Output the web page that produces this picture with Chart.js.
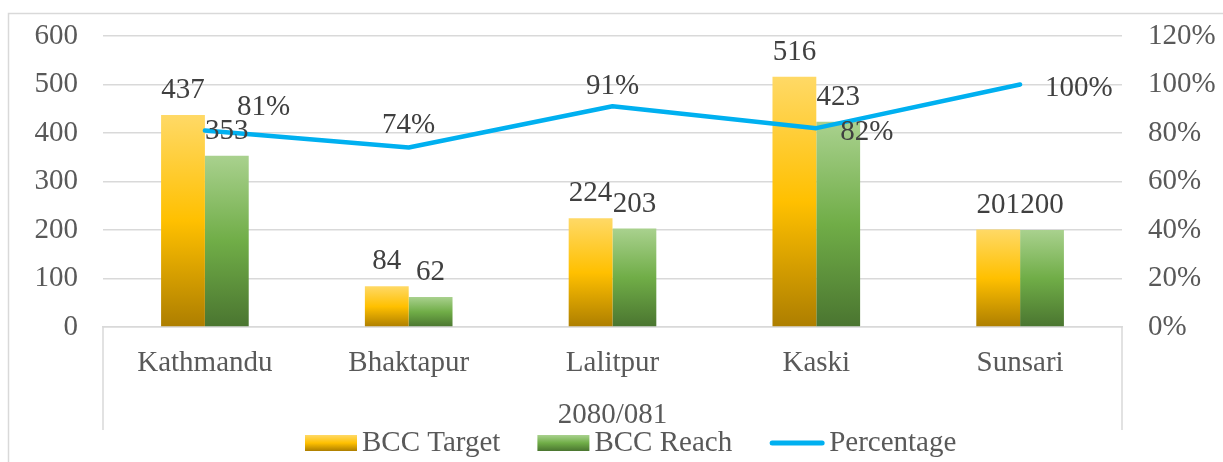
<!DOCTYPE html>
<html>
<head>
<meta charset="utf-8">
<script src="https://cdn.jsdelivr.net/npm/chart.js@4"></script>
<style>
  html, body { margin: 0; padding: 0; background: #fff; }
  #wrap { width: 1223px; height: 462px; position: relative; }
</style>
</head>
<body>
<div id="wrap"><canvas id="chart" width="1223" height="462"></canvas></div>
<script>
// ── DATOS ──
const distritos   = ['Kathmandu', 'Bhaktapur', 'Lalitpur', 'Kaski', 'Sunsari'];
const bccTarget   = [437, 84, 224, 516, 201];
const bccReach    = [353, 62, 203, 423, 200];
const porcentaje  = [81, 74, 91, 82, 100];
const tituloEjeX  = '2080/081';

const FUENTE = '"Liberation Serif", "Times New Roman", serif';
const TAM = 29;
const GRIS_EJE = '#595959';
const GRIS_ETQ = '#404040';
const GRIS_LINEA = '#d9d9d9';

const stopsAmarillo = ['#FFD966', '#FFC000', '#AD7E00'];
const stopsVerde    = ['#A9D18E', '#70AD47', '#4A7530'];

Chart.defaults.font.family = FUENTE;

// degradado vertical por barra (claro arriba, oscuro abajo)
function degradado(stops) {
  return ctx => {
    const chart = ctx.chart;
    const y = chart.scales && chart.scales.y;
    if (!y || ctx.type !== 'data') return stops[1];
    const top  = y.getPixelForValue(ctx.raw);
    const base = y.getPixelForValue(0);
    if (!isFinite(top) || !isFinite(base) || base - top < 1) return stops[1];
    const g = chart.ctx.createLinearGradient(0, top, 0, base);
    g.addColorStop(0, stops[0]);
    g.addColorStop(0.5, stops[1]);
    g.addColorStop(1, stops[2]);
    return g;
  };
}

// posiciones de las etiquetas de la línea (como en el original)
const offsetsLinea = [
  { dx: 32, dy: -16, align: 'left' },
  { dx: 0,  dy: -15, align: 'center' },
  { dx: 0,  dy: -12, align: 'center' },
  { dx: 24, dy: 12,  align: 'left' },
  { dx: 25, dy: 11,  align: 'left' },
];

// anchura fija de los ejes verticales, sin relleno extra arriba/abajo
function fijarAncho(w) {
  return s => {
    s.width = w;
    s.paddingTop = 0;
    s.paddingBottom = 0;
  };
}

const pluginExtras = {
  id: 'extras',
  afterDatasetsDraw(chart) {
    const c = chart.ctx;
    c.save();
    c.font = TAM + 'px ' + FUENTE;
    c.fillStyle = GRIS_ETQ;
    c.textBaseline = 'alphabetic';
    // etiquetas de barras
    [0, 1].forEach(di => {
      const meta = chart.getDatasetMeta(di);
      meta.data.forEach((bar, i) => {
        c.textAlign = 'center';
        c.fillText(String(chart.data.datasets[di].data[i]), bar.x, bar.y - 17);
      });
    });
    // etiquetas de la línea
    const metaL = chart.getDatasetMeta(2);
    metaL.data.forEach((pt, i) => {
      const o = offsetsLinea[i];
      c.textAlign = o.align;
      c.fillText(porcentaje[i] + '%', pt.x + o.dx, pt.y + o.dy);
    });
    c.restore();
  },
  afterDraw(chart) {
    const c = chart.ctx;
    const { left, right, bottom } = chart.chartArea;
    c.save();
    // marco exterior
    c.strokeStyle = GRIS_LINEA;
    c.lineWidth = 1.5;
    c.beginPath();
    c.moveTo(8.5, 462); c.lineTo(8.5, 13.5); c.lineTo(1223, 13.5);
    c.stroke();
    // separadores del eje de categorías
    c.beginPath();
    c.moveTo(left, bottom); c.lineTo(left, 430);
    c.moveTo(right, bottom); c.lineTo(right, 430);
    c.stroke();
    // título del eje X
    c.font = TAM + 'px ' + FUENTE;
    c.fillStyle = GRIS_EJE;
    c.textAlign = 'center';
    c.textBaseline = 'alphabetic';
    c.fillText(tituloEjeX, (left + right) / 2, 423);
    // leyenda
    const items = [
      { txt: 'BCC Target', tipo: 'caja', stops: stopsAmarillo },
      { txt: 'BCC Reach',  tipo: 'caja', stops: stopsVerde },
      { txt: 'Percentage', tipo: 'linea' },
    ];
    let x = 305;
    const yTop = 435, yBot = 451, base = 451;
    c.textAlign = 'left';
    items.forEach(it => {
      if (it.tipo === 'caja') {
        const g = c.createLinearGradient(0, yTop, 0, yBot);
        g.addColorStop(0, it.stops[0]);
        g.addColorStop(0.5, it.stops[1]);
        g.addColorStop(1, it.stops[2]);
        c.fillStyle = g;
        c.fillRect(x, yTop, 52, yBot - yTop);
        x += 57;
      } else {
        c.strokeStyle = '#00B0F0';
        c.lineWidth = 5;
        c.lineCap = 'round';
        c.beginPath();
        c.moveTo(x + 3, 443); c.lineTo(x + 53, 443);
        c.stroke();
        x += 60;
      }
      c.fillStyle = GRIS_EJE;
      c.fillText(it.txt, x, base);
      x += c.measureText(it.txt).width + 37;
    });
    c.restore();
  }
};

const ctx = document.getElementById('chart').getContext('2d');
const chart = new Chart(ctx, {
  type: 'bar',
  data: {
    labels: distritos,
    datasets: [
      {
        label: 'BCC Target',
        data: bccTarget,
        backgroundColor: degradado(stopsAmarillo),
        yAxisID: 'y',
        order: 2,
        categoryPercentage: 0.43,
        barPercentage: 1,
      },
      {
        label: 'BCC Reach',
        data: bccReach,
        backgroundColor: degradado(stopsVerde),
        yAxisID: 'y',
        order: 2,
        categoryPercentage: 0.43,
        barPercentage: 1,
      },
      {
        type: 'line',
        label: 'Percentage',
        data: porcentaje,
        borderColor: '#00B0F0',
        borderWidth: 4.5,
        borderCapStyle: 'round',
        borderJoinStyle: 'round',
        pointRadius: 0,
        tension: 0,
        yAxisID: 'y1',
        order: 1,
      },
    ]
  },
  options: {
    responsive: false,
    animation: false,
    events: [],
    layout: { padding: { top: 36, left: 0, right: 0, bottom: 0 } },
    plugins: {
      legend: { display: false },
      tooltip: { enabled: false },
    },
    scales: {
      x: {
        grid: { display: false, drawTicks: false },
        border: { color: GRIS_LINEA, width: 1.5 },
        ticks: { font: { size: TAM }, color: GRIS_EJE, padding: 19 },
        afterFit: s => { s.height = 135; s.paddingLeft = 0; s.paddingRight = 0; },
      },
      y: {
        position: 'left',
        min: 0, max: 600,
        ticks: { stepSize: 100, font: { size: TAM }, color: GRIS_EJE, padding: 25 },
        grid: { color: GRIS_LINEA, lineWidth: 1.5, drawTicks: false },
        border: { display: false },
        afterFit: fijarAncho(103),
      },
      y1: {
        position: 'right',
        min: 0, max: 120,
        ticks: { stepSize: 20, font: { size: TAM }, color: GRIS_EJE, padding: 26, callback: v => v + '%' },
        grid: { display: false, drawTicks: false },
        border: { display: false },
        afterFit: fijarAncho(101),
      },
    }
  },
  plugins: [pluginExtras]
});
</script>
</body>
</html>
